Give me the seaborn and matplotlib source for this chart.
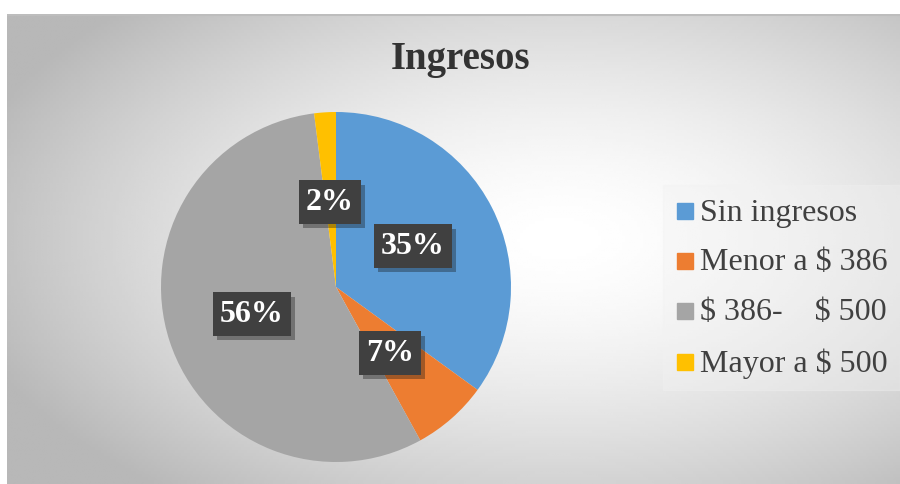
import matplotlib.pyplot as plt
import seaborn as sns
import numpy as np
from matplotlib.patches import Rectangle
import matplotlib.patheffects as pe

# --- Data ---
categorias = ['Sin ingresos', 'Menor a \\$ 386', '\\$ 386-    \\$ 500', 'Mayor a \\$ 500']
valores = [35, 7, 56, 2]
etiquetas = ['35%', '7%', '56%', '2%']
colores = ['#5b9bd5', '#ed7d31', '#a5a5a5', '#ffc000']

sns.set_style('white')
plt.rcParams['font.family'] = ['Liberation Serif', 'DejaVu Serif']

W, H = 900, 485
fig = plt.figure(figsize=(9, 4.85), dpi=100)
fig.patch.set_facecolor('white')

# --- Fondo con degradado radial ---
x0, x1, y0, y1 = 7, 900, 15, 485
bg = fig.add_axes([x0 / W, 0, (x1 - x0) / W, (y1 - y0) / H])
bg.set_axis_off()
xx, yy = np.meshgrid(np.linspace(x0, x1, 300), np.linspace(y0, y1, 160))
d = np.sqrt(((xx - 560) / 560) ** 2 + ((yy - 240) / 300) ** 2)
val = 1 - 0.24 * np.clip(d, 0, 1.1) ** 1.6
bg.imshow(val, cmap='gray', vmin=0, vmax=1, aspect='auto',
          extent=[x0, x1, y1, y0], interpolation='bilinear')
bg.set_xlim(x0, x1)
bg.set_ylim(y1, y0)
bg.axhline(y0 + 1, color='#bdbdbd', lw=1.5)

# --- Caja de leyenda ---
bg.add_patch(Rectangle((663, 186), 237, 205, color='#f2f2f2', alpha=0.35, zorder=2))

# --- Pie ---
r = 175
cx, cy = 336, 288
ax = fig.add_axes([(cx - r) / W, (H - cy - r) / H, 2 * r / W, 2 * r / H])
wedges, _ = ax.pie(valores, colors=colores, startangle=90, counterclock=False,
                   radius=1, wedgeprops=dict(linewidth=0))
ax.set_xlim(-1, 1)
ax.set_ylim(-1, 1)
ax.set_aspect('auto')

# etiquetas de datos (posición en píxeles de la figura)
pos = [(413, 247), (390, 354), (252, 315), (330, 203)]
for (px, py), txt in zip(pos, etiquetas):
    fig.text(px / W, 1 - py / H, txt, ha='center', va='center', fontsize=23,
             fontweight='bold', color='white',
             bbox=dict(boxstyle='square,pad=0.22', fc='#404040', ec='none',
                       path_effects=[pe.withSimplePatchShadow(offset=(3, -3), alpha=0.35)]))

# --- Título ---
fig.text(461 / W, 1 - 60 / H, 'Ingresos', ha='center', va='center',
         fontsize=28, fontweight='bold', color='#333333')

# --- Leyenda ---
ley_y = [213, 263, 313, 364]
for nombre, col, py in zip(categorias, colores, ley_y):
    fig.patches.append(Rectangle((677 / W, 1 - (py + 7) / H), 16 / W, 16 / H,
                                 transform=fig.transFigure, color=col, figure=fig))
    fig.text(700 / W, 1 - py / H, nombre, ha='left', va='center',
             fontsize=23, color='#404040')

fig.savefig('out.png', dpi=100)
